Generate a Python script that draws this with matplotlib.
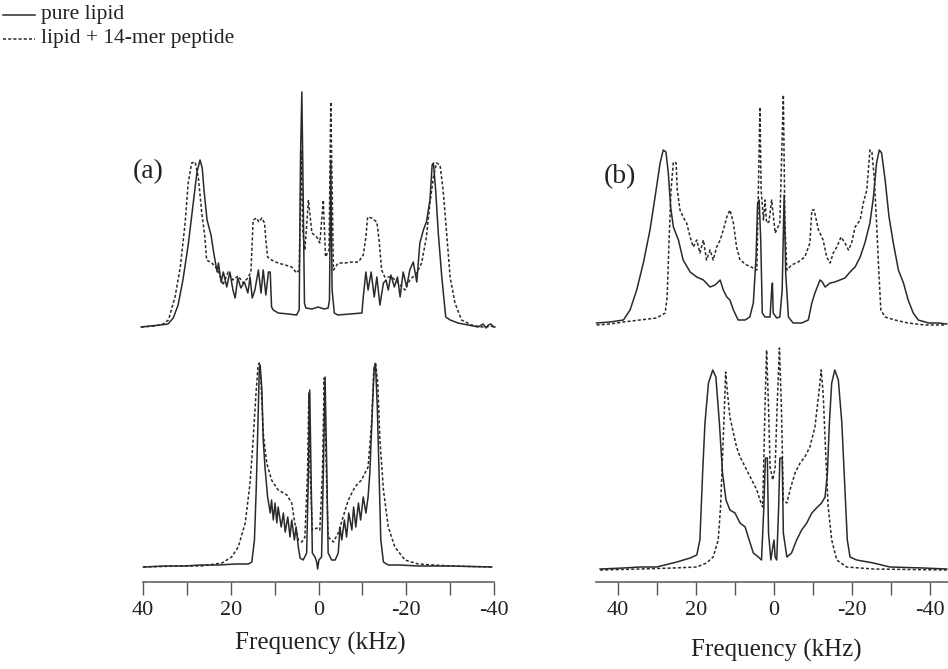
import matplotlib
matplotlib.use("Agg")
import matplotlib.pyplot as plt
from matplotlib.lines import Line2D

# ---------------------------------------------------------------------------
# 2H NMR powder spectra: pure lipid vs lipid + 14-mer peptide
# frequency in kHz, intensity in arbitrary units (baseline = 0)
# ---------------------------------------------------------------------------

# (a) upper spectrum, pure lipid
a_top_pure_khz = [40.4, 38.4, 36.1, 34.3, 33.1, 32.0, 30.9, 29.7, 28.6, 27.7, 27.0, 26.5, 26.1, 25.4,
                  24.5, 23.8, 23.1, 22.8, 22.2, 21.7, 20.9, 20.2, 19.5, 19.0, 18.4, 17.7, 16.9, 16.1,
                  15.6, 15.1, 14.5, 13.7, 13.1, 12.6, 12.0, 11.4, 11.0, 10.7, 10.3, 9.2, 6.9, 5.0, 4.4,
                  4.1, 3.8, 3.6, 3.2, 2.9, 1.5, 0.1, -1.3, -2.2, -2.5, -2.8, -3.1, -3.6, -4.4, -7.2,
                  -9.9, -10.2, -10.8, -11.3, -12.0, -12.7, -13.3, -14.0, -14.8, -15.4, -15.9, -16.5,
                  -17.3, -18.0, -18.6, -19.3, -20.1, -20.8, -21.6, -22.4, -23.1, -23.9, -24.6, -25.4,
                  -25.9, -26.2, -26.7, -27.3, -28.1, -29.0, -30.0, -31.8, -34.1, -36.4, -37.5, -38.2,
                  -38.7, -39.3, -39.8, -40.2]
a_top_pure_int = [-1, 0, 1, 2, 8, 21, 46, 81, 121, 154, 166, 158, 136, 106,
                  91, 71, 54, 63, 44, 54, 39, 54, 36, 28, 48, 38, 44, 33,
                  49, 28, 36, 56, 33, 56, 31, 54, 54, 19, 16, 13, 12, 11, 16,
                  169, 234, 169, 23, 18, 17, 19, 17, 18, 26, 166, 36, 13, 11, 12,
                  13, 29, 54, 36, 54, 29, 49, 21, 43, 46, 36, 51,
                  39, 49, 29, 54, 39, 56, 64, 44, 83, 96, 104, 126,
                  161, 163, 136, 93, 49, 9, 6, 3, 1, -1, 2, -2,
                  1, 2, -1, -1]

# (a) upper spectrum, lipid + peptide
a_top_pep_khz = [40.4, 37.2, 35.4, 34.2, 32.7, 31.5, 30.4, 29.7, 28.9, 28.1, 27.4, 26.6, 25.9, 25.5,
                 24.3, 22.9, 21.8, 20.6, 19.5, 18.3, 17.2, 16.1, 15.4, 14.9, 14.1, 13.6, 12.9, 12.3,
                 12.0, 11.6, 10.7, 9.2, 7.6, 6.1, 5.0, 4.4, 3.9, 3.6, 3.1, 2.3, 1.5, 0.4, -0.3, -1.1,
                 -1.6, -2.4, -2.8, -3.4, -4.5, -6.0, -7.6, -9.1, -10.2, -10.8, -11.2, -12.1, -13.3,
                 -13.8, -14.4, -15.1, -16.7, -18.2, -19.7, -20.8, -22.4, -23.5, -24.6, -25.4, -26.2,
                 -26.9, -27.7, -28.4, -29.2, -30.0, -31.1, -32.6, -34.9, -37.2, -40.2]
a_top_pep_int = [-1, 0, 2, 6, 29, 59, 103, 143, 163, 164, 149, 113, 89, 66,
                 63, 56, 41, 54, 46, 50, 43, 48, 54, 106, 108, 104, 108, 103,
                 86, 69, 66, 63, 61, 59, 53, 56, 176, 96, 76, 126, 93, 89, 83, 126,
                 69, 76, 224, 56, 63, 63, 64, 64, 71, 89, 109, 108, 104,
                 86, 56, 49, 49, 43, 36, 46, 53, 63, 89, 123, 149,
                 163, 161, 136, 93, 49, 23, 6, 1, -1, 0]

# (a) lower spectrum, pure lipid
a_bot_pure_khz = [39.9, 35.0, 30.4, 27.0, 22.8, 19.0, 16.0, 15.2, 14.6, 14.2, 13.8, 13.5, 13.3, 12.9,
                  12.6, 12.2, 11.6, 11.0, 10.7, 10.3, 9.9, 9.5, 9.2, 8.5, 8.0, 7.6, 7.0, 6.5, 6.1,
                  5.5, 5.1, 4.6, 4.2, 3.5, 2.7, 2.3, 2.0, 1.7, 1.4, 0.8, 0.4, 0.2, -0.1, -0.7, -1.1,
                  -1.5, -1.9, -2.2, -3.0, -3.8, -4.5, -4.9, -5.3, -5.9, -6.4, -6.9, -7.6, -8.0, -8.5,
                  -9.1, -9.6, -10.2, -10.8, -11.3, -11.7, -12.3, -12.7, -13.0, -13.4, -13.8, -14.2,
                  -14.8, -15.9, -18.6, -22.7, -30.0, -39.5]
a_bot_pure_int = [0, 1, 1, 2, 2, 3, 3, 5, 27, 77, 144, 197, 202, 177,
                  127, 100, 70, 54, 67, 47, 64, 44, 60, 40, 54, 35, 50, 30, 47,
                  27, 40, 20, 9, 7, 14, 94, 177, 94, 14, 10, 5, -2, 7, 10, 94,
                  190, 94, 14, 7, 7, 14, 40, 27, 47, 30, 54, 37, 60, 40,
                  64, 47, 70, 54, 70, 94, 160, 200, 202, 160, 94, 27,
                  5, 2, 2, 1, 1, 0]

# (a) lower spectrum, lipid + peptide
a_bot_pep_khz = [39.9, 31.5, 26.6, 22.0, 19.8, 18.3, 16.7, 15.6, 14.9, 14.3, 13.8, 13.5, 13.1, 12.6,
                 11.8, 10.7, 9.2, 7.2, 6.1, 5.4, 4.6, 3.8, 3.1, 2.5, 2.2, 1.9, 1.4, 0.4, -0.3, -0.9,
                 -1.3, -1.8, -2.2, -3.4, -4.5, -5.6, -6.8, -8.3, -9.8, -11.3, -12.1, -12.6, -13.0,
                 -13.5, -14.0, -14.8, -15.9, -17.4, -19.7, -22.7, -30.0, -39.5]
a_bot_pep_int = [0, 1, 1, 4, 10, 20, 44, 84, 127, 170, 200, 204, 184, 134,
                 104, 87, 77, 72, 64, 44, 27, 25, 30, 94, 174, 94, 37, 39, 37, 94,
                 189, 94, 30, 25, 34, 50, 67, 80, 87, 100, 144, 197, 205,
                 184, 127, 77, 40, 20, 7, 3, 1, 0]

# (b) upper spectrum, pure lipid
b_top_pure_khz = [45.5, 42.1, 38.6, 36.9, 35.2, 33.5, 31.8, 30.5, 29.2, 28.4, 27.7, 27.1, 26.5, 25.8,
                  24.5, 23.3, 21.5, 19.8, 18.1, 16.4, 15.1, 13.8, 13.0, 12.1, 11.3, 10.4, 9.2, 7.4,
                  6.2, 5.3, 4.6, 4.2, 3.8, 3.4, 3.0, 2.3, 1.0, 0.6, 0.4, 0.2, -0.7, -1.5, -2.1, -2.6,
                  -3.0, -3.7, -4.9, -7.1, -8.8, -9.7, -10.5, -11.8, -12.4, -13.1, -14.4, -15.6, -16.9,
                  -18.2, -19.5, -20.8, -22.1, -23.3, -24.6, -25.5, -26.3, -27.0, -27.6, -28.5, -29.5,
                  -30.6, -31.9, -33.2, -34.4, -35.7, -37.0, -39.6, -42.1, -44.3]
b_top_pure_int = [0, 1, 3, 13, 33, 60, 93, 126, 160, 173, 171, 150, 116, 96,
                  83, 63, 51, 46, 43, 36, 38, 43, 33, 26, 23, 13, 3, 3,
                  6, 20, 66, 120, 123, 83, 10, 6, 6, 33, 40, 10, 5, 6, 33, 128,
                  50, 6, 0, 0, 3, 20, 30, 43, 41, 36, 40, 41, 43,
                  45, 51, 56, 66, 80, 100, 126, 160, 173, 170, 143, 106,
                  80, 53, 40, 23, 10, 3, 0, 0, -1]

# (b) upper spectrum, lipid + peptide
b_top_pep_khz = [45.5, 42.1, 38.6, 34.4, 30.1, 27.9, 27.4, 26.9, 26.4, 25.8, 25.1, 24.8, 24.1, 23.3,
                 22.4, 21.5, 20.7, 19.8, 19.0, 18.1, 17.3, 16.4, 15.6, 14.7, 13.8, 13.0, 12.1, 11.3,
                 10.4, 9.6, 8.7, 7.0, 5.3, 4.4, 4.0, 3.6, 3.3, 2.7, 2.3, 1.9, 1.3, 0.6, -0.3, -1.5,
                 -2.4, -2.8, -3.3, -4.5, -6.2, -7.9, -9.2, -9.7, -10.3, -11.4, -12.6, -13.5, -14.4,
                 -15.2, -16.1, -17.2, -18.2, -19.1, -19.9, -20.8, -22.1, -22.9, -23.8, -24.6, -25.1,
                 -25.7, -26.3, -26.9, -27.4, -28.5, -31.0, -34.4, -38.7, -43.8]
b_top_pep_int = [-2, -1, 1, 3, 5, 10, 26, 83, 133, 161, 160, 133, 113, 106,
                 100, 86, 76, 83, 70, 83, 63, 73, 63, 76, 83, 93, 106, 113,
                 100, 76, 63, 58, 55, 53, 133, 216, 133, 103, 123, 100, 101, 123, 90, 100,
                 228, 100, 53, 58, 61, 66, 80, 113, 113, 93, 83, 66, 60,
                 70, 76, 86, 80, 73, 80, 96, 103, 120, 133, 173, 171,
                 146, 100, 50, 13, 6, 3, 0, -2, -2]

# (b) lower spectrum, pure lipid
b_bot_pure_khz = [44.6, 38.6, 34.4, 30.1, 24.9, 21.5, 19.8, 19.0, 18.3, 17.7, 16.8, 15.7, 14.9, 14.0,
                  13.2, 12.3, 11.3, 10.0, 8.7, 7.4, 6.6, 5.3, 4.0, 3.2, 2.6, 2.2, 1.7, 1.4, 0.8, 0.3,
                  0.0, -0.3, -0.7, -1.2, -1.5, -2.1, -2.4, -3.3, -4.5, -5.8, -7.1, -8.4, -9.7, -10.9,
                  -12.2, -13.1, -13.7, -14.2, -14.8, -15.6, -16.5, -17.4, -18.2, -18.8, -19.5, -21.2,
                  -25.5, -29.7, -38.3, -44.3]
b_bot_pure_int = [-1, 0, 1, 1, 6, 10, 13, 28, 95, 145, 185, 198, 191, 145,
                  95, 68, 58, 55, 45, 41, 31, 15, 11, 8, 61, 110, 110, 35, 8, 21,
                  28, 11, 8, 61, 110, 110, 35, 11, 15, 28, 38, 45, 55, 60,
                  65, 71, 95, 145, 185, 198, 188, 145, 78, 28, 11, 8,
                  5, 1, 0, -1]

# (b) lower spectrum, lipid + peptide
b_bot_pep_khz = [44.6, 34.4, 25.8, 19.8, 17.3, 15.6, 14.3, 13.7, 13.2, 12.7, 12.4, 12.0, 11.3, 10.4,
                 9.6, 8.7, 7.9, 7.0, 5.7, 4.4, 3.6, 2.9, 2.3, 1.9, 1.4, 1.0, 0.3, -0.3, -0.8, -1.4,
                 -1.9, -2.4, -3.3, -4.1, -5.4, -6.7, -7.9, -9.2, -10.5, -11.6, -12.1, -12.6, -13.3,
                 -13.9, -14.8, -16.1, -18.6, -25.5, -44.3]
b_bot_pep_int = [-2, -1, 0, 1, 5, 11, 28, 61, 111, 161, 196, 178, 151, 135,
                 121, 111, 105, 98, 88, 78, 68, 61, 161, 218, 161, 101, 88, 101, 161, 220,
                 161, 68, 65, 78, 95, 105, 111, 121, 141, 178, 198, 175, 111,
                 61, 28, 8, 1, -1, -2]

freq_ticks_major = [40, 20, 0, -20, -40]
freq_ticks_minor = [30, 10, -10, -30]
legend_labels = ["pure lipid", "lipid + 14-mer peptide"]
panel_labels = ["(a)", "(b)"]
xlabel_text = "Frequency (kHz)"

# ---------------------------------------------------------------------------
W, H = 948, 669
fig = plt.figure(figsize=(W / 100, H / 100), dpi=100)
fig.patch.set_facecolor("white")
SERIF = ["Liberation Serif", "DejaVu Serif"]
INK = "#2a2a2a"
TEXT = "#222222"
SOLID = dict(color=INK, lw=1.1, solid_joinstyle="round")
DASHED = dict(color=INK, lw=1.1, linestyle=(0, (2.0, 1.4)))


def px_rect(x0, y0, x1, y1):
    """Axes rectangle from pixel corners (y measured from the top)."""
    return [x0 / W, 1 - y1 / H, (x1 - x0) / W, (y1 - y0) / H]


AX_TOP, AX_BOT = 85, 582


def make_panel(x0, x1, xlim):
    ax = fig.add_axes(px_rect(x0, AX_TOP, x1, AX_BOT))
    ax.set_xlim(*xlim)
    ax.set_ylim(0, AX_BOT - AX_TOP)
    for s in ("top", "left", "right"):
        ax.spines[s].set_visible(False)
    ax.spines["bottom"].set_color("#707070")
    ax.spines["bottom"].set_linewidth(1.3)
    ax.set_yticks([])
    ax.set_xticks(freq_ticks_major)
    ax.set_xticks(freq_ticks_minor, minor=True)
    ax.set_xticklabels([f"{t:g}" for t in freq_ticks_major], fontfamily=SERIF,
                       fontsize=16, color=TEXT)
    ax.tick_params(axis="x", which="both", direction="out", length=9, width=1.0,
                   color="#555555", pad=5)
    ax.patch.set_alpha(0)
    return ax


ax_a = make_panel(143, 494, (40, -40))
ax_b = make_panel(596, 948, (45.64, -44.62))

# vertical offsets of the stacked spectra (lower, upper)
offsets = {"a": (15, 256), "b": (14, 259)}

spectra = {
    "a": [(a_bot_pure_khz, a_bot_pure_int, a_bot_pep_khz, a_bot_pep_int),
          (a_top_pure_khz, a_top_pure_int, a_top_pep_khz, a_top_pep_int)],
    "b": [(b_bot_pure_khz, b_bot_pure_int, b_bot_pep_khz, b_bot_pep_int),
          (b_top_pure_khz, b_top_pure_int, b_top_pep_khz, b_top_pep_int)],
}

for key, ax in (("a", ax_a), ("b", ax_b)):
    for (fp, ip, fq, iq), off in zip(spectra[key], offsets[key]):
        ax.plot(fq, [v + off for v in iq], clip_on=False, **DASHED)
        ax.plot(fp, [v + off for v in ip], clip_on=False, **SOLID)

# axis titles
fig.text(320 / W, 1 - 643 / H, xlabel_text, ha="center", va="center",
         fontfamily=SERIF, fontsize=18, color=TEXT)
fig.text(776 / W, 1 - 650 / H, xlabel_text, ha="center", va="center",
         fontfamily=SERIF, fontsize=18, color=TEXT)

# panel labels
fig.text(148 / W, 1 - 172 / H, panel_labels[0], ha="center", va="center",
         fontfamily=SERIF, fontsize=20, color=TEXT)
fig.text(620 / W, 1 - 177 / H, panel_labels[1], ha="center", va="center",
         fontfamily=SERIF, fontsize=20, color=TEXT)

# legend in the upper-left corner
for i, (lab, style) in enumerate(zip(legend_labels, (SOLID, DASHED))):
    y = 1 - (15 + 24 * i) / H
    fig.add_artist(Line2D([3 / W, 35 / W], [y, y], transform=fig.transFigure, **style))
    fig.text(41 / W, y, lab, ha="left", va="center", fontfamily=SERIF,
             fontsize=15.5, color=TEXT)

fig.savefig("out.png", dpi=100, facecolor="white")
